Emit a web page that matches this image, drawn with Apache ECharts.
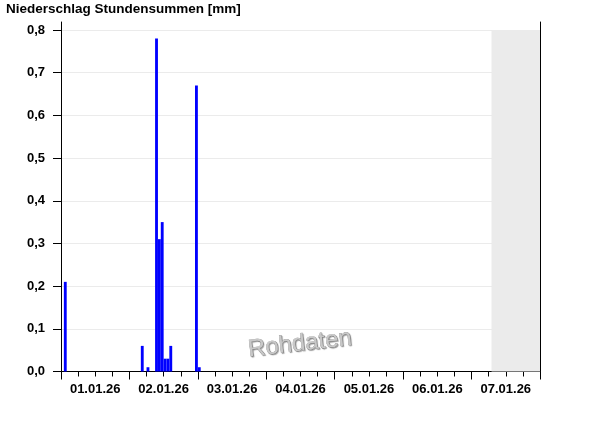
<!DOCTYPE html>
<html>
<head>
<meta charset="utf-8">
<script src="https://cdn.jsdelivr.net/npm/echarts@6/dist/echarts.min.js"></script>
<style>html,body{margin:0;padding:0;background:#fff}#c{width:600px;height:426px}</style>
</head>
<body>
<div id="c"></div>
<script>
// Hour index (from 01.01.26 00:00) at which each hourly bar starts
const barHours = [1, 28, 30, 33, 34, 35, 36, 37, 38, 47, 48];
// Hourly precipitation sums [mm]
const barValues = [0.21, 0.06, 0.01, 0.78, 0.31, 0.35, 0.03, 0.03, 0.06, 0.67, 0.01];
// Day labels (centred on each day)
const dayLabels = ['01.01.26', '02.01.26', '03.01.26', '04.01.26', '05.01.26', '06.01.26', '07.01.26'];
// Y axis range
const yMin = 0, yMax = 0.8, yStep = 0.1;
// Grey (future) region start hour
const greyStart = 151;
const totalHours = 168;

const chart = echarts.init(document.getElementById('c'), null, {renderer: 'canvas'});
const FONT = '"Liberation Sans", Arial, sans-serif';
const fmtY = v => v.toFixed(1).replace('.', ',');

const option = {
  animation: false,
  backgroundColor: '#ffffff',
  title: {
    text: 'Niederschlag Stundensummen [mm]',
    left: 6, top: 2, padding: 0,
    textStyle: {fontFamily: FONT, fontSize: 13.5, fontWeight: 'bold', color: '#000'}
  },
  grid: [
    {left: 61, right: 60, top: 30, bottom: 54.5, containLabel: false},
    {left: 61, right: 60, top: 22, bottom: 54.5, containLabel: false}
  ],
  xAxis: [
    {
      gridIndex: 0, type: 'value', position: 'bottom', min: 0, max: totalHours, interval: 6,
      axisLine: {show: true, lineStyle: {color: '#000', width: 1}},
      axisTick: {show: true, length: 5, lineStyle: {color: '#000'}},
      splitLine: {show: false},
      axisLabel: {
        show: true, margin: 11.5, fontFamily: FONT, fontSize: 13, fontWeight: 'bold', color: '#000',
        showMinLabel: false, showMaxLabel: false,
        formatter: v => (v % 24 === 12 ? dayLabels[(v - 12) / 24] : '')
      }
    },
    {
      gridIndex: 0, type: 'value', position: 'bottom', min: 0, max: totalHours, interval: 24,
      axisLine: {show: false},
      axisTick: {show: true, length: 8, lineStyle: {color: '#000'}},
      splitLine: {show: false},
      axisLabel: {show: false}
    },
    {
      gridIndex: 1, type: 'value', min: 0, max: totalHours, show: false
    }
  ],
  yAxis: [
    {
      gridIndex: 0, type: 'value', position: 'left', min: yMin, max: yMax, interval: yStep,
      axisLine: {show: true, lineStyle: {color: '#000', width: 1}},
      axisTick: {show: true, length: 8, lineStyle: {color: '#000', width: 1}},
      splitLine: {show: true, lineStyle: {color: '#ebebeb', width: 1}},
      axisLabel: {
        show: true, margin: 16, fontFamily: FONT, fontSize: 13, fontWeight: 'bold', color: '#000',
        formatter: fmtY
      }
    },
    {
      gridIndex: 1, type: 'value', position: 'left', min: 0, max: 1,
      axisLine: {show: true, lineStyle: {color: '#000', width: 1}},
      axisTick: {show: false}, splitLine: {show: false}, axisLabel: {show: false}
    },
    {
      gridIndex: 1, type: 'value', position: 'right', min: 0, max: 1,
      axisLine: {show: true, lineStyle: {color: '#000', width: 1}},
      axisTick: {show: false}, splitLine: {show: false}, axisLabel: {show: false}
    }
  ],
  series: [
    {
      type: 'custom',
      xAxisIndex: 0, yAxisIndex: 0,
      encode: {x: 0, y: 1},
      data: barHours.map((h, i) => [h, barValues[i]]),
      renderItem: function (params, api) {
        const h = api.value(0), v = api.value(1);
        const p0 = api.coord([h, 0]);
        const p1 = api.coord([h + 1, v]);
        return {
          type: 'rect',
          shape: {x: p0[0], y: p1[1], width: p1[0] - p0[0], height: p0[1] - p1[1]},
          style: {fill: '#0000ff'}
        };
      },
      markArea: {
        silent: true,
        itemStyle: {color: '#ebebeb'},
        data: [[{coord: [greyStart, yMin]}, {coord: [totalHours, yMax]}]]
      },
      z: 3
    }
  ],
  graphic: [
    {
      type: 'text', x: 300, y: 344, rotation: 0.115,
      style: {
        text: 'Rohdaten', fontFamily: FONT, fontSize: 24,
        fill: '#c8c8c8', stroke: '#707070', lineWidth: 0.4,
        textShadowColor: 'rgba(0,0,0,0.35)', textShadowOffsetX: 1, textShadowOffsetY: 1, textShadowBlur: 1,
        align: 'center', verticalAlign: 'middle'
      },
      z: 1
    }
  ]
};
chart.setOption(option);
</script>
</body>
</html>
